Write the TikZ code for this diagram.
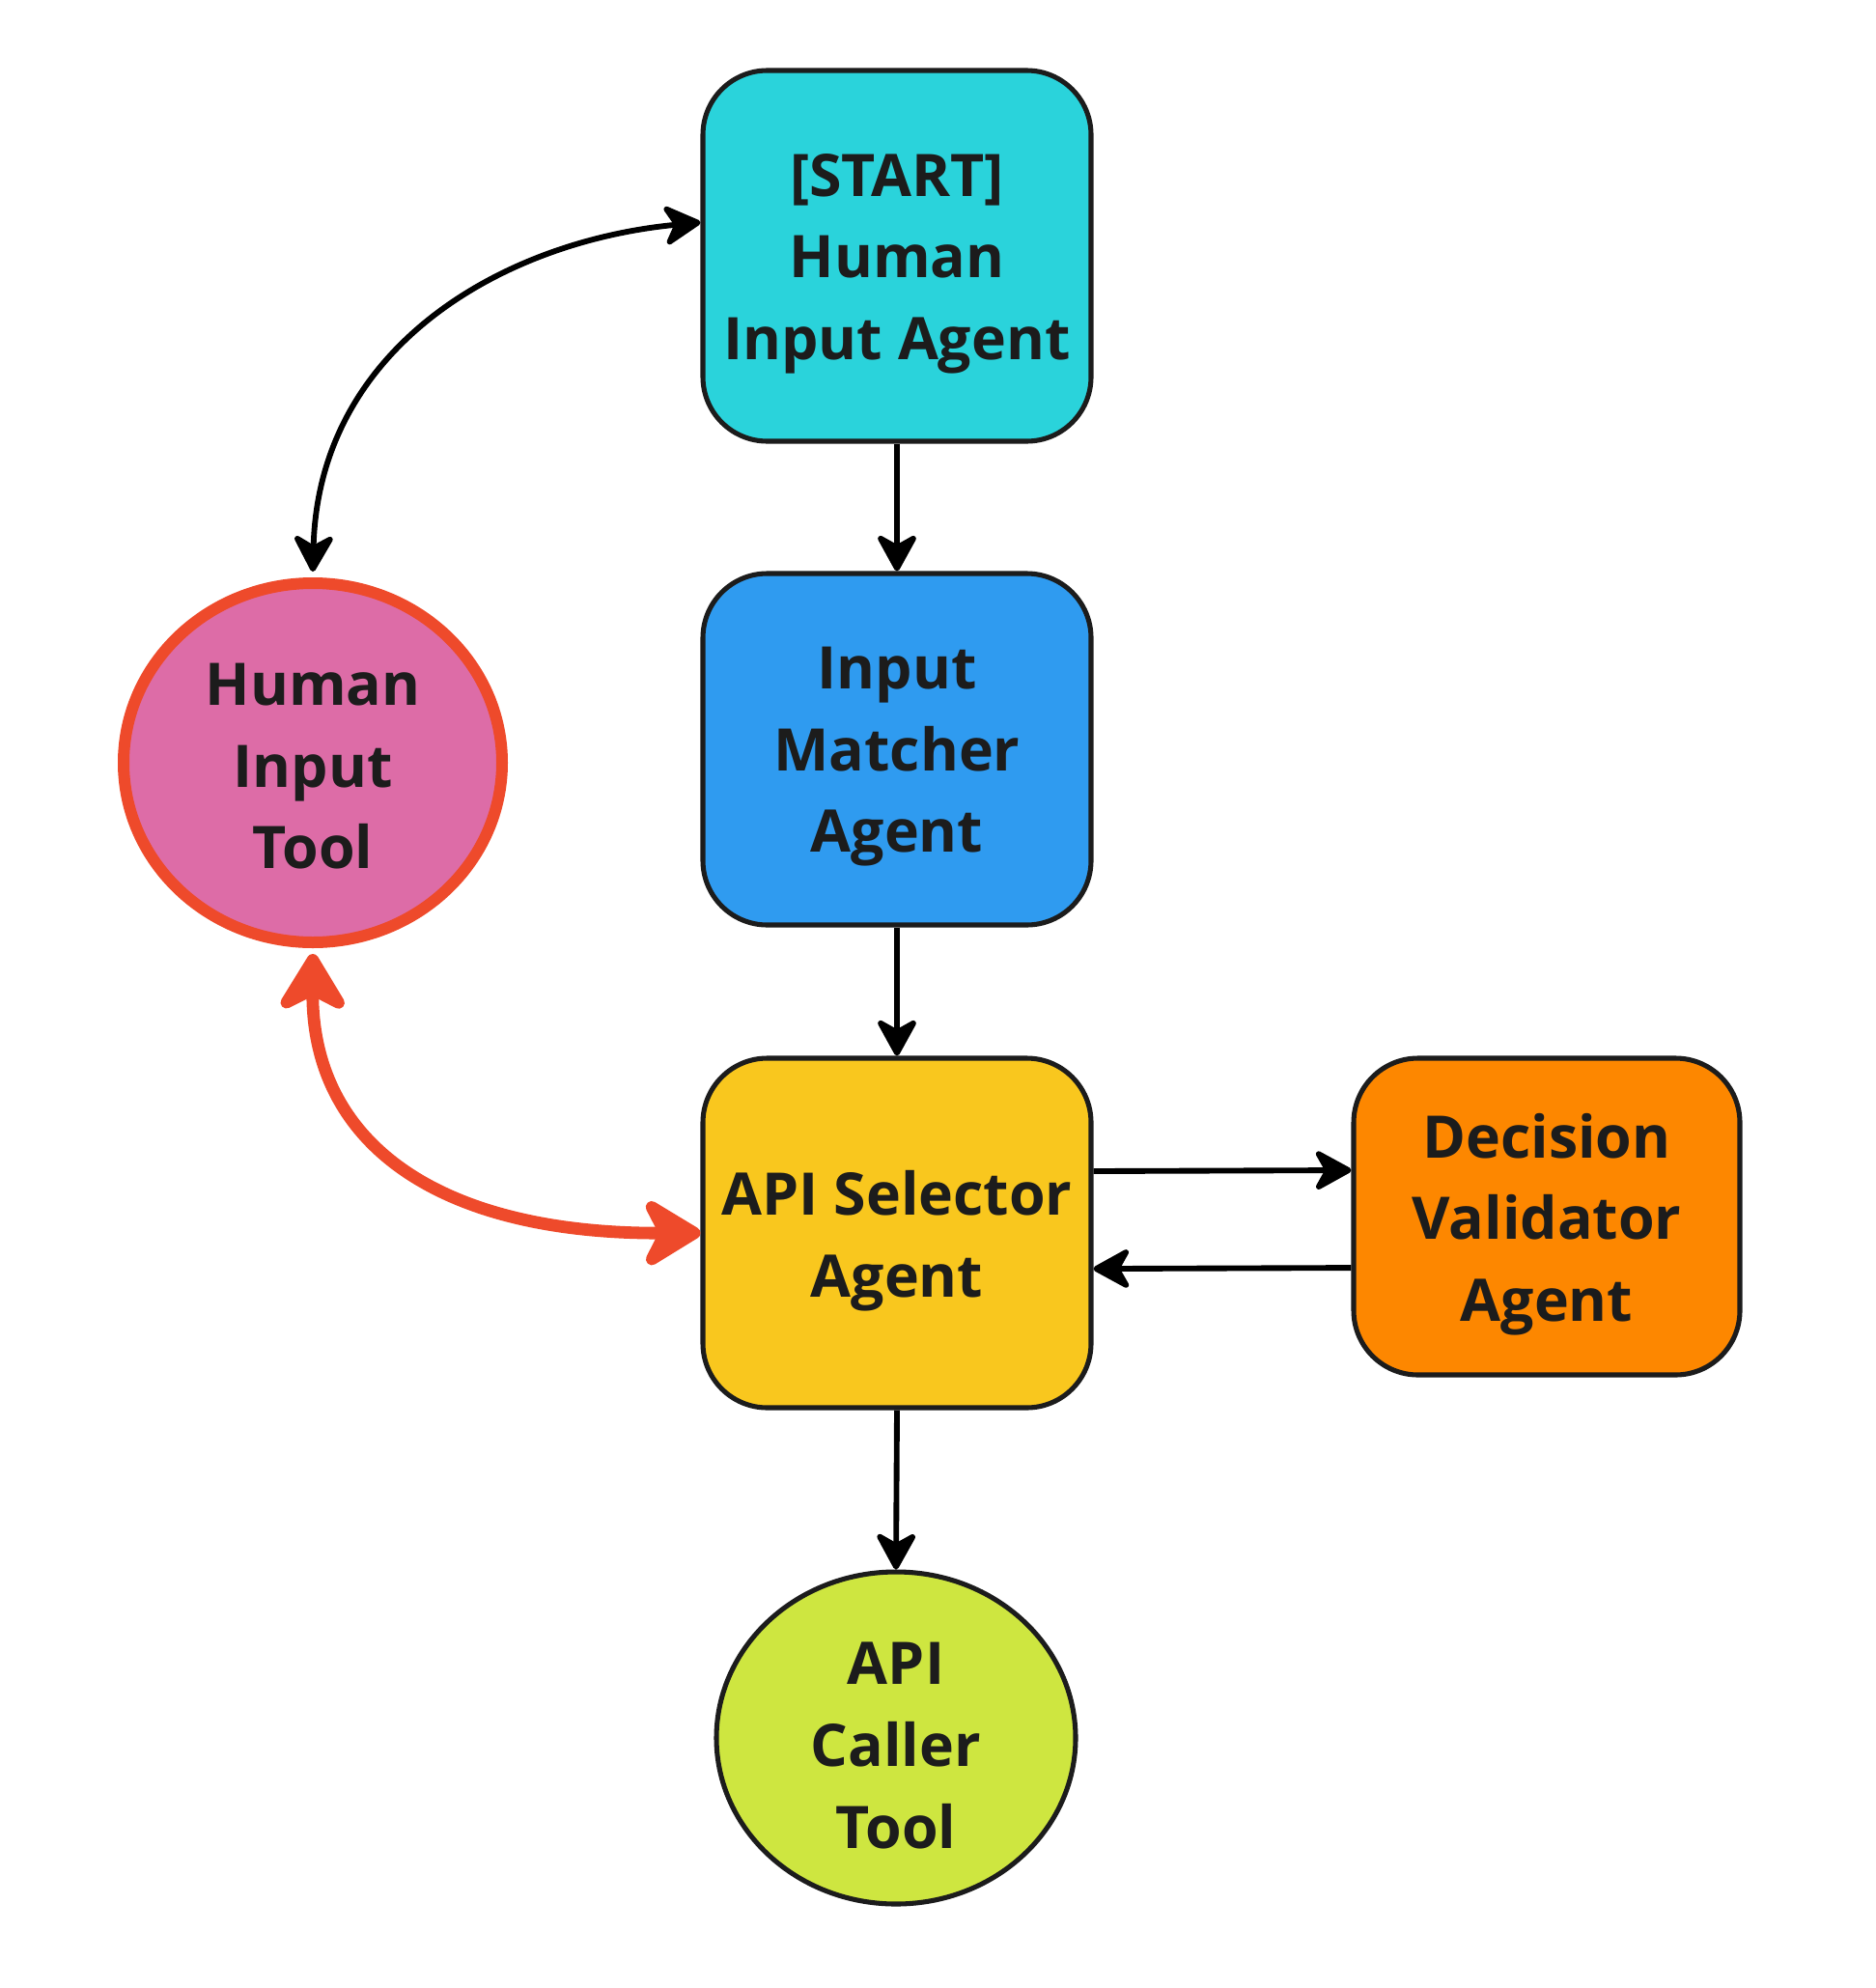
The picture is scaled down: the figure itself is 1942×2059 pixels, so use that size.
\documentclass[tikz,border=0pt]{standalone}
\usepackage{fontspec}
\setmainfont{Open Sans}
\usetikzlibrary{arrows.meta,shapes.geometric}
\definecolor{cyanbox}{HTML}{2AD3DB}
\definecolor{bluebox}{HTML}{2F9BF0}
\definecolor{yellowbox}{HTML}{F9C71E}
\definecolor{orangebox}{HTML}{FD8700}
\definecolor{pinkbox}{HTML}{DD6CA7}
\definecolor{redline}{HTML}{EE4A2B}
\definecolor{limebox}{HTML}{CEE640}
\definecolor{inkc}{HTML}{1C1C1C}
\tikzset{
  lbl/.style={font=\fontsize{22.8}{31.7}\selectfont\bfseries, text=inkc, align=center, inner sep=0pt},
  agentbox/.style={rectangle, rounded corners=25pt, draw=inkc, line width=1.9pt, minimum width=150.75pt},
  toolnode/.style={ellipse, line width=1.9pt, inner sep=0pt},
  blktip/.tip={Stealth[length=16.5pt,width=18pt,inset=5pt,round]},
  redtip/.tip={Stealth[length=26.5pt,width=32pt,inset=8pt,round]},
  blk/.style={draw=black, line width=2.2pt, -blktip},
  blkboth/.style={draw=black, line width=2.2pt, blktip-blktip},
  redboth/.style={draw=redline, line width=4.8pt, redtip-redtip},
}
\begin{document}
\begin{tikzpicture}[x=0.375pt,y=-0.375pt]
\useasboundingbox[fill=white] (0,0) rectangle (1942,2059);

\node[agentbox, fill=cyanbox, minimum height=144pt] (start) at (929,265) {};
\node[agentbox, fill=bluebox, minimum height=136.5pt] (matcher) at (929,776) {};
\node[agentbox, fill=yellowbox, minimum height=135.75pt] (selector) at (929,1277) {};
\node[agentbox, fill=orangebox, minimum width=150pt, minimum height=123pt] (decision) at (1602,1260) {};
\node[toolnode, fill=pinkbox, draw=redline, line width=4.5pt, minimum width=147pt, minimum height=139.5pt] (human) at (324,790) {};
\node[toolnode, fill=limebox, draw=inkc, minimum width=139.5pt, minimum height=129pt] (caller) at (928,1800) {};

\node[lbl] (startT) at ([yshift=-3pt]start.center) {[START]\\Human\\Input Agent};
\node[lbl] (matcherT) at ([yshift=-3pt]matcher.center) {Input\\Matcher\\Agent};
\node[lbl] (selectorT) at ([yshift=-3pt]selector.center) {API Selector\\Agent};
\node[lbl] (decisionT) at ([yshift=-3pt]decision.center) {Decision\\Validator\\Agent};
\node[lbl] (humanT) at ([yshift=-1.5pt]human.center) {Human\\Input\\Tool};
\node[lbl] (callerT) at ([yshift=-3pt]caller.center) {API\\Caller\\Tool};

\draw[blk] (start.south) -- (matcher.north);
\draw[blk] (matcher.south) -- (selector.north);
\draw[blk] (selector.south) -- (caller.north);
\draw[blk] ([yshift=24pt]selector.east) -- ([yshift=18pt]decision.west);
\draw[blk] ([yshift=-19.9pt]decision.west) -- ([yshift=-13.9pt]selector.east);

\draw[blkboth] ([yshift=2.25pt]human.north) .. controls (330,360) and (520,250) .. ([yshift=13pt]start.west);
\draw[redboth] ([yshift=-2.25pt]human.south) .. controls (323,1180) and (448,1278) .. (selector.west);
\end{tikzpicture}
\end{document}
